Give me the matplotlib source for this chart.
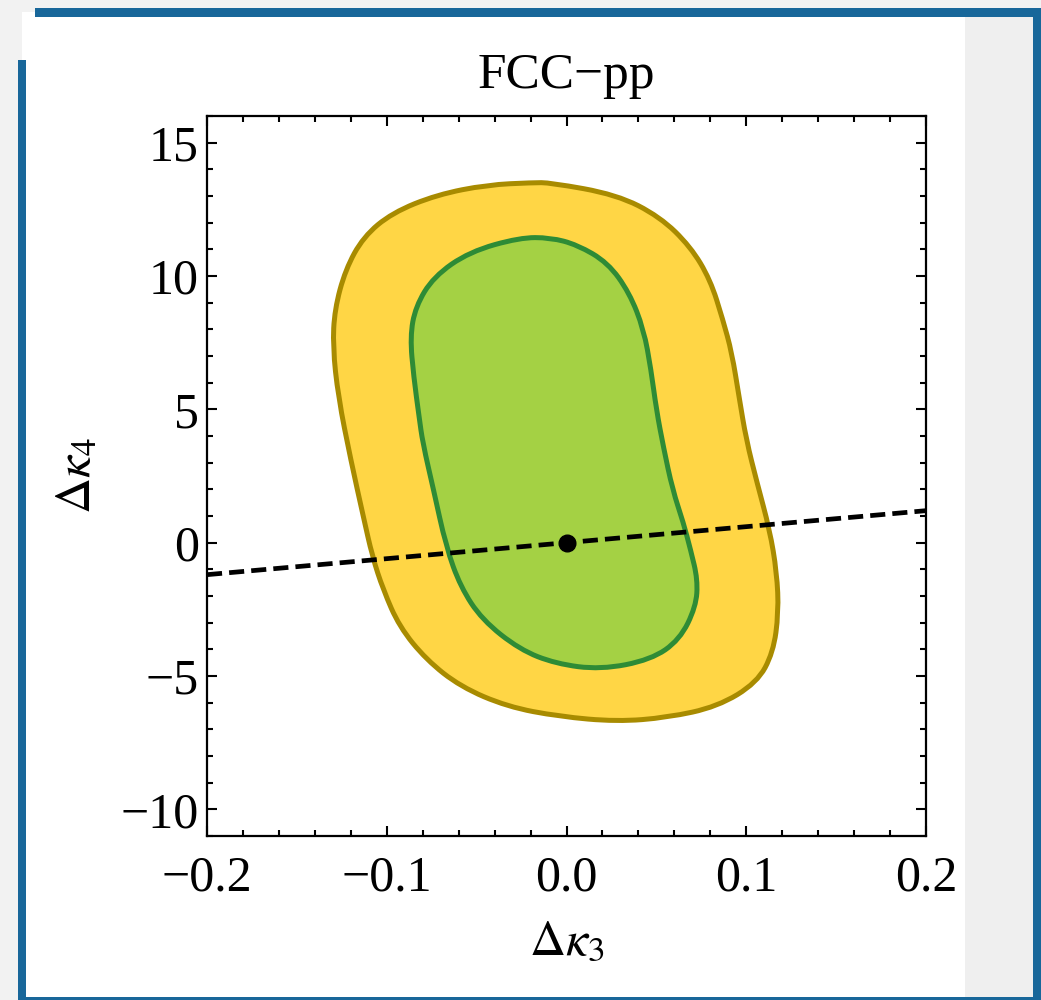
import matplotlib
matplotlib.use("Agg")
import matplotlib.pyplot as plt
from matplotlib.patches import Rectangle, PathPatch
from matplotlib.path import Path
from matplotlib.ticker import MultipleLocator

plt.rcParams['font.family'] = ['Liberation Serif', 'DejaVu Serif']
plt.rcParams['mathtext.fontset'] = 'stix'

# outer (yellow) region boundary
outer_k3 = [-0.019, -0.009, 0.028, 0.052, 0.069, 0.080, 0.087, 0.092, 0.096, 0.100,
            0.106, 0.113, 0.117, 0.118, 0.115, 0.106, 0.084, 0.056, 0.028, -0.004,
            -0.033, -0.059, -0.078, -0.093, -0.102, -0.108, -0.113, -0.120,
            -0.127, -0.130, -0.129, -0.123, -0.113, -0.097, -0.072, -0.044]
outer_k4 = [13.50, 13.50, 13.05, 12.22, 11.10, 9.86, 8.36, 7.12, 5.47, 3.86,
            2.25, 0.49, -1.12, -2.62, -4.12, -5.25, -6.15, -6.56, -6.71, -6.52,
            -6.15, -5.40, -4.39, -3.15, -1.76, -0.52, 0.97, 3.10,
            5.47, 7.35, 8.74, 10.24, 11.47, 12.37, 13.05, 13.42]

# inner (green) region boundary
inner_k3 = [-0.026, -0.009, 0.006, 0.023, 0.035, 0.043, 0.047, 0.050, 0.054, 0.059,
            0.065, 0.069, 0.073, 0.072, 0.063, 0.047, 0.019, -0.006, -0.026, -0.047,
            -0.059, -0.067, -0.074, -0.080, -0.082, -0.085, -0.087, -0.084, -0.074,
            -0.054]
inner_k4 = [11.44, 11.44, 11.17, 10.50, 9.37, 7.99, 6.49, 4.99, 3.56, 1.99,
            0.75, -0.26, -1.39, -2.40, -3.64, -4.39, -4.76, -4.54, -4.01, -2.89,
            -1.65, -0.15, 1.99, 3.75, 4.72, 6.22, 7.72, 8.85, 9.97, 10.91]

# dashed line and SM point
line_k3 = [-0.2, 0.2]
line_k4 = [-1.2, 1.2]
sm_k3 = [0.0]
sm_k4 = [0.0]

xticks = [-0.2, -0.1, 0.0, 0.1, 0.2]
xticklabels = ['\u22120.2', '\u22120.1', '0.0', '0.1', '0.2']
yticks = [-10, -5, 0, 5, 10, 15]
yticklabels = ['\u221210', '\u22125', '0', '5', '10', '15']

W, H = 1041, 1000
fig = plt.figure(figsize=(W / 100, H / 100), dpi=100)
fig.patch.set_facecolor('#f2f2f2')

def rect(x0, y0, w, h, color):
    # pixel box (from top-left) drawn on the figure
    fig.add_artist(Rectangle((x0 / W, 1 - (y0 + h) / H), w / W, h / H,
                             transform=fig.transFigure, facecolor=color,
                             edgecolor='none', zorder=0))

def smooth_region(xs, ys):
    # closed quadratic-bezier path: read points act as control points,
    # midpoints between them are the on-curve points
    n = len(xs)
    mids = [((xs[i] + xs[(i + 1) % n]) / 2, (ys[i] + ys[(i + 1) % n]) / 2)
            for i in range(n)]
    verts = [mids[-1]]
    codes = [Path.MOVETO]
    for i in range(n):
        verts += [(xs[i], ys[i]), mids[i]]
        codes += [Path.CURVE3, Path.CURVE3]
    verts.append(mids[-1])
    codes.append(Path.CLOSEPOLY)
    return Path(verts, codes)

blue = '#18679a'
rect(22, 12, 943, 986, 'white')
rect(965, 17, 68, 981, '#efefef')
rect(35, 8, 1006, 9, blue)
rect(1033, 8, 8, 992, blue)
rect(18, 60, 8, 940, blue)
rect(18, 997, 1023, 3, blue)

ax = fig.add_axes([207 / W, 164 / H, 719 / W, 720 / H])
ax.set_facecolor('white')

ax.add_patch(PathPatch(smooth_region(outer_k3, outer_k4), facecolor='#ffd645',
                       edgecolor='#a88b00', lw=3.6, zorder=2))
ax.add_patch(PathPatch(smooth_region(inner_k3, inner_k4), facecolor='#a4d144',
                       edgecolor='#2e8b36', lw=3.6, zorder=3))
ax.plot(line_k3, line_k4, color='black', lw=3.4, dashes=(3.2, 1.5), zorder=4,
        clip_on=False)
ax.plot(sm_k3, sm_k4, 'o', color='black', ms=12, zorder=5)

ax.set_xlim(-0.2, 0.2)
ax.set_ylim(-11, 16)
ax.set_xticks(xticks)
ax.set_xticklabels(xticklabels)
ax.set_yticks(yticks)
ax.set_yticklabels(yticklabels)
ax.xaxis.set_minor_locator(MultipleLocator(0.02))
ax.yaxis.set_minor_locator(MultipleLocator(1))
ax.tick_params(which='both', direction='in', top=True, right=True, width=1.5,
               labelsize=36)
ax.tick_params(which='major', length=7.5)
ax.tick_params(which='minor', length=4.5)
ax.tick_params(axis='x', pad=14)
ax.tick_params(axis='y', pad=6)
for s in ax.spines.values():
    s.set_linewidth(1.6)

ax.set_title('FCC\u2212pp', fontsize=37, pad=20)
ax.set_xlabel(r'$\Delta\kappa_3$', fontsize=36, labelpad=12)
ax.set_ylabel(r'$\Delta\kappa_4$', fontsize=36, labelpad=14)

fig.savefig('out.png', dpi=100, facecolor=fig.get_facecolor())
